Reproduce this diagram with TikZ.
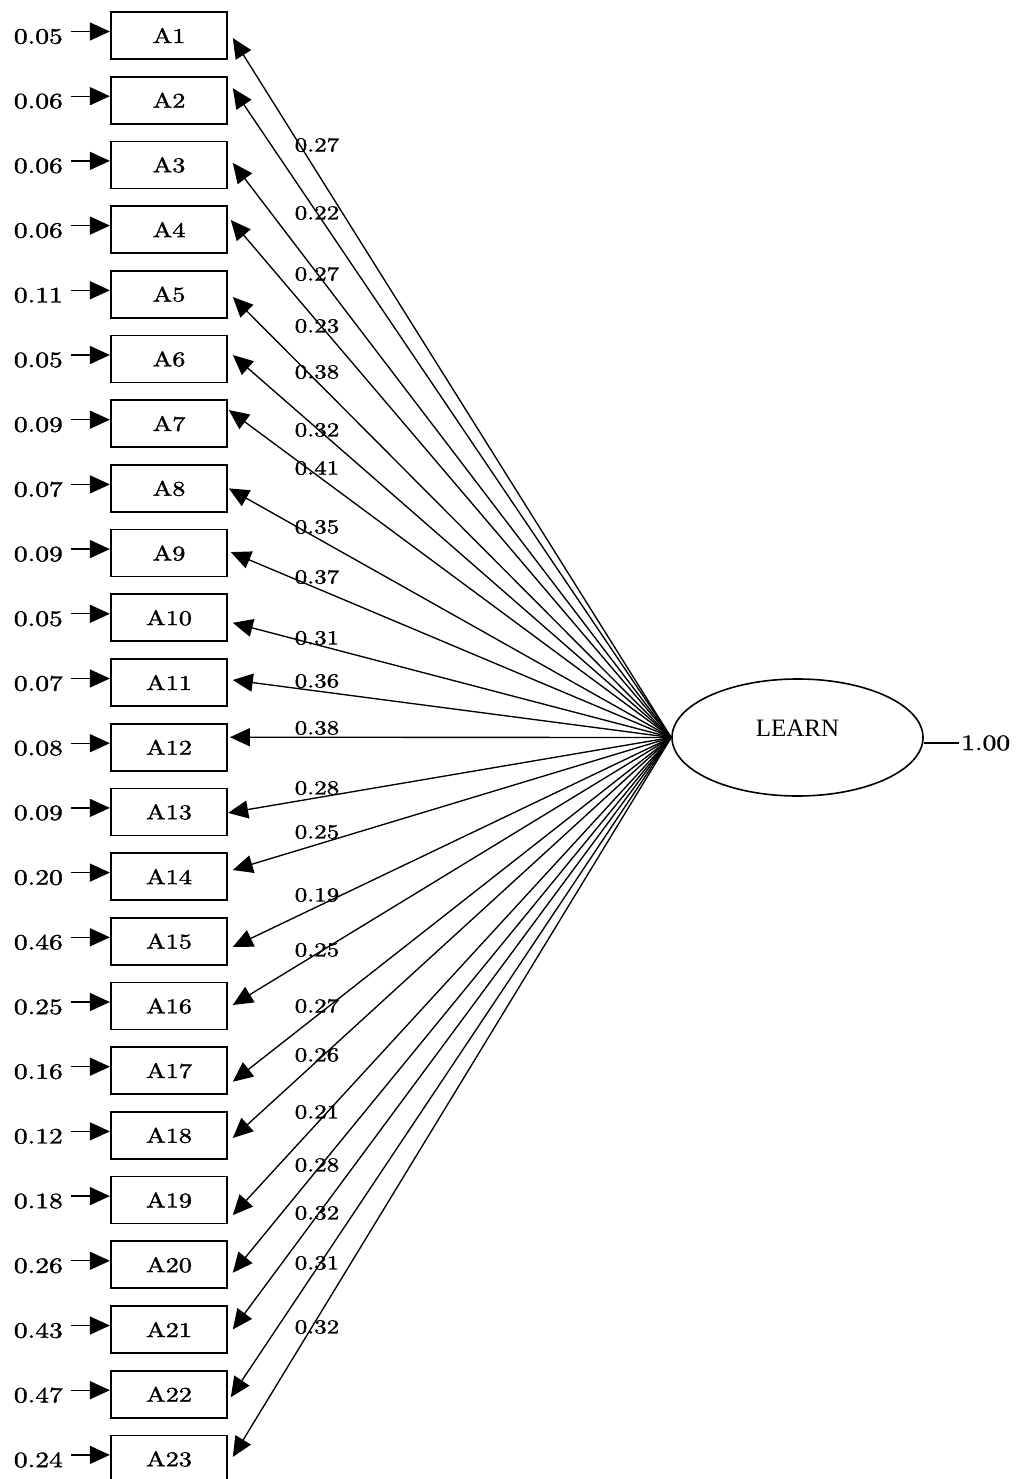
\documentclass[tikz,border=0pt]{standalone}
\usepackage{fontspec}
\setmainfont{lmroman10-regular.otf}[FakeBold=1.4]
\newfontfamily\learnfont{Liberation Serif}
\usetikzlibrary{arrows.meta,shapes.geometric}
% slightly widened lettering for the numeric labels and item names
\newcommand{\wtxt}[1]{\scalebox{1.25}[1]{#1}}

\begin{document}
\begin{tikzpicture}[x=1pt,y=-1pt,
  obs/.style={draw, line width=1.7pt, minimum width=116.5pt, minimum height=47pt,
              inner sep=0pt, font=\fontsize{21}{25}\selectfont},
  errlbl/.style={anchor=east, inner sep=0pt, font=\fontsize{22}{26}\selectfont},
  loadlbl/.style={inner sep=0pt, font=\fontsize{20}{24}\selectfont},
  latent/.style={ellipse, draw, line width=1.6pt, minimum width=251pt, minimum height=117pt,
                 inner sep=0pt, text height=16pt, text depth=19pt,
                 font=\learnfont\fontsize{25}{29}\selectfont},
  conn/.style={line width=1.35pt, -{Triangle[length=20pt,width=18pt]}},
]
\useasboundingbox (0,0) rectangle (1017,1479);

% latent factor and its variance
\node[latent] (learn) at (797.5,737.5) {LEARN};
\node[anchor=west, inner sep=0pt, font=\fontsize{22}{26}\selectfont] (var) at (961,743) {\wtxt{1.00}};
\draw[line width=1.35pt] (learn.east |- var.west) -- ([xshift=-2pt]var.west);

% items: index / error variance / loading / loading label y / tip lift / tip gap
\foreach \i/\e/\l/\ly/\up/\dx in {
  1/0.05/0.27/145/-2.5/4.7,
  2/0.06/0.22/213/12/4.7,
  3/0.06/0.27/274/2/4.7,
  4/0.06/0.23/326/9.6/2.7,
  5/0.11/0.38/372/-2.7/4.7,
  6/0.05/0.32/430/4/4.7,
  7/0.09/0.41/468/13.7/0.7,
  8/0.07/0.35/527/0/0.7,
  9/0.09/0.37/577/1/2.7,
  10/0.05/0.31/638/-5/4.7,
  11/0.07/0.36/681/2.5/4.7,
  12/0.08/0.38/728/10/1.7,
  13/0.09/0.28/788/-1/0,
  14/0.20/0.25/832/6.6/4.7,
  15/0.46/0.19/895/-5.7/4.7,
  16/0.25/0.25/950/1/4.7,
  17/0.16/0.27/1006/-11/4.7,
  18/0.12/0.26/1055/-2.6/4.7,
  19/0.18/0.21/1112/-15/4.7,
  20/0.26/0.28/1165/-8/4.7,
  21/0.43/0.32/1213/0/4.7,
  22/0.47/0.31/1263/-3/2.7,
  23/0.24/0.32/1327/2/4.7}{
  \pgfmathsetmacro\cy{35.5+64.7*(\i-1)}
  \node[obs] (a\i) at (169,\cy) {\wtxt{A\i}};
  \node[errlbl] (e\i) at (63,\cy+1) {\wtxt{\e}};
  \draw[conn] ([xshift=8pt,yshift=5pt]e\i.east) -- ([yshift=4pt]a\i.west);
  \draw[conn] (learn.west) -- ([xshift=\dx pt,yshift=\up pt]a\i.east);
  \node[loadlbl] (l\i) at (317,\ly) {\wtxt{\l}};
}
\end{tikzpicture}
\end{document}
